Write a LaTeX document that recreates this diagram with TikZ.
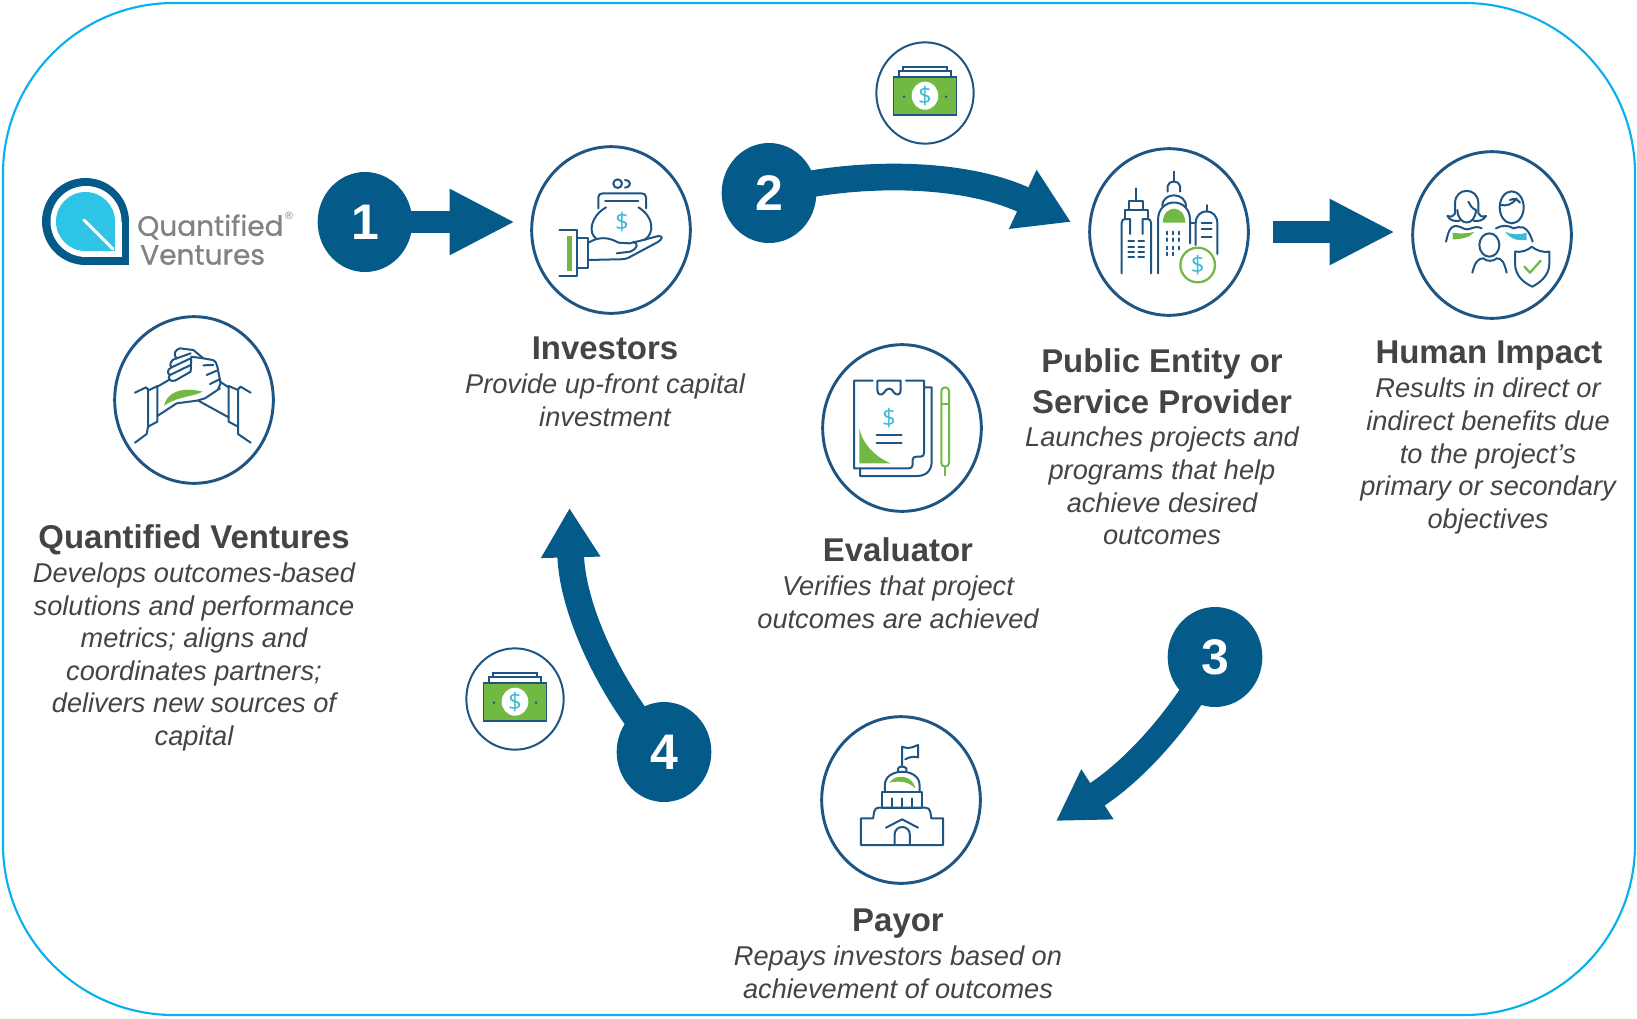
\documentclass[tikz,border=0pt]{standalone}
\usepackage{fontspec}
\setmainfont{Liberation Sans}
\newfontfamily\logofont{Poppins}[FakeBold=0.8]
\newfontfamily\dollarfont{Open Sans}
\usetikzlibrary{shapes.geometric,arrows.meta,backgrounds}
\definecolor{flowblue}{HTML}{045A89}
\definecolor{iconblue}{HTML}{1F5582}
\definecolor{leaf}{HTML}{72B944}
\definecolor{aqua}{HTML}{3DBBD6}
\definecolor{frameblue}{HTML}{0AB0EE}
\definecolor{logoaqua}{HTML}{2EC4E6}
\definecolor{logogrey}{HTML}{808285}
\definecolor{txt}{HTML}{444444}
\tikzset{
  iconcircle/.style={ellipse,draw=iconblue,line width=2.2pt,fill=white,minimum width=119pt,minimum height=125pt,inner sep=0pt},
  cashcircle/.style={ellipse,draw=iconblue,line width=1.5pt,fill=white,minimum width=73pt,minimum height=76pt,inner sep=0pt},
  numcircle/.style={ellipse,fill=flowblue,minimum width=71pt,minimum height=75pt,inner sep=0pt,text=white,font=\bfseries\fontsize{37.5}{40}\selectfont},
  heading/.style={text=txt,align=center,inner sep=0pt,font=\bfseries\fontsize{24.7}{30.5}\selectfont},
  bodytext/.style={text=txt,align=center,inner sep=0pt,font=\itshape\fontsize{20.4}{24.45}\selectfont},
  flowstraight/.style={draw=flowblue,line width=17.2pt,-{Triangle[length=49pt,width=46pt]}},
  flowcurve/.style={draw=flowblue,line width=20pt,-{Triangle[length=37pt,width=42pt]}},
  flowcurvewide/.style={draw=flowblue,line width=20pt,-{Triangle[length=40pt,width=46pt]}},
  ic/.style={draw=iconblue,line width=1.5pt,line join=round,line cap=round},
  dollar/.style={text=aqua,inner sep=0pt,font=\dollarfont\fontsize{18}{18}\selectfont},
  moneyicon/.pic={
    \draw[iconblue,line width=1.2pt,fill=white] (-22,-26) rectangle (22,-22);
    \draw[iconblue,line width=1.2pt,fill=white] (-26,-22) rectangle (26,-16);
    \draw[iconblue,line width=1.2pt,fill=leaf] (-31.5,-16) rectangle (31.5,22);
    \fill[white] (0,2.7) ellipse[x radius=13.3,y radius=14];
    \fill[iconblue] (-21,3.7) circle[radius=1.3] (21,3.7) circle[radius=1.3];
    \node[dollar] (d) at (0,2.7) {\$};
  }
}
\begin{document}
\begin{tikzpicture}[x=.75pt,y=-.75pt]
\useasboundingbox (0,0) rectangle (1637,1018);
\draw[frameblue,line width=1.6pt,rounded corners=128pt] (3,3) rectangle (1635,1015);

% ---- circles
\node[iconcircle] (qv) at (194,400) {};
\node[iconcircle] (inv) at (611,230) {};
\node[iconcircle] (pub) at (1169,232) {};
\node[iconcircle] (hum) at (1492,235) {};
\node[iconcircle] (eval) at (902,428) {};
\node[iconcircle] (pay) at (901,800) {};
\node[cashcircle] (cashA) at (925,93) {};
\node[cashcircle] (cashB) at (515,699) {};
\pic[name prefix=a] at (925,93) {moneyicon};
\pic[name prefix=b] at (515,699) {moneyicon};

% ---- numbered circles
\node[numcircle] (n1) at (365,222) {1};
\node[numcircle] (n2) at (769,193) {2};
\node[numcircle] (n3) at (1215,657) {3};
\node[numcircle] (n4) at (664,752) {4};

% ---- connectors
\coordinate (tip1) at (515,222);
\coordinate (tip2) at (1071,222);
\coordinate (tip3) at (1056,821);
\coordinate (tip4) at (569.5,508);
\coordinate (startH) at (1273,232);
\coordinate (tipH) at (1395,232);
\begin{scope}[on background layer]
\draw[flowstraight] (n1.center) -- (tip1);
\draw[flowstraight] (startH) -- (tipH);
\draw[flowcurvewide] (n2.center) .. controls (850,171) and (960,170) .. (tip2);
\draw[flowcurve] (n3.center) .. controls (1180,722) and (1132,772) .. (tip3);
\draw[flowcurve] (n4.center) .. controls (612,695) and (572,610) .. (tip4);
\end{scope}

% ---- logo
\fill[flowblue] (85.5,221.5) circle[radius=43.5];
\fill[flowblue] (85.5,221.5) rectangle (129,264.5);
\fill[white] (86,221.5) circle[radius=35.5];
\fill[white] (86,221.5) rectangle (121.5,257);
\fill[logoaqua] (85.5,221.5) circle[radius=29.5];
\fill[logoaqua] (85.5,221.5) rectangle (115,251);
\draw[white,line width=2.2pt,line cap=round] (84,220) -- (113,249);
\node[anchor=west,text=logogrey,inner sep=0pt,font=\logofont\fontsize{21}{21}\selectfont] (logoA) at (137,227) {Quantified};
\node[anchor=west,text=logogrey,inner sep=0pt,font=\logofont\fontsize{21}{21}\selectfont] (logoB) at (140,255) {Ventures};
\node[text=logogrey,inner sep=0pt,font=\fontsize{8}{8}\selectfont] (logoR) at (289,216) {®};

% ---- handshake icon
\begin{scope}[shift={(0,140)},x=.25pt,y=-.25pt]
\fill[leaf] (492,797) .. controls (500,760) and (540,738) .. (608,755) .. controls (580,770) and (530,770) .. (492,797) -- cycle;
\draw[ic] (405,758) -- (438,742) -- (444,748) -- (444,860) -- (440,882) -- (405,908);
\draw[ic] (444,752) -- (472,738) -- (472,845) -- (444,860);
\draw[ic] (472,740) -- (510,718);
\draw[ic] (472,828) -- (530,790) -- (590,782) -- (615,775) -- (660,745);
\draw[ic] (752,758) -- (722,740) -- (714,748) -- (714,882) -- (752,908);
\draw[ic] (714,750) -- (686,738) -- (686,845) -- (714,860);
\draw[ic] (686,832) -- (595,782);
\draw[ic] (686,742) -- (660,725);
% fist
\draw[ic] (530,655) .. controls (518,645) and (525,628) .. (540,625) -- (580,630) -- (610,655) -- (638,660) .. controls (648,664) and (650,672) .. (652,680) -- (662,730) -- (655,745);
\draw[ic] (530,655) -- (572,640);
\draw[ic] (530,655) .. controls (508,660) and (508,678) .. (515,682) -- (572,655);
\draw[ic] (515,682) .. controls (500,688) and (502,702) .. (510,705) -- (572,675);
\draw[ic] (510,705) .. controls (500,715) and (510,726) .. (525,722) -- (572,695) -- (574,650) -- (610,655);
\draw[ic] (610,676) -- (640,675);
\draw[ic] (620,705) -- (650,692);
\draw[ic] (630,732) -- (660,717);
\end{scope}

% ---- investors icon
\begin{scope}[shift={(510,20)},x=.25pt,y=-.25pt]
\fill[leaf] (172,647) rectangle (186,752);
\draw[ic] (148,630) -- (202,630) -- (202,768) -- (148,768);
\draw[ic] (202,655) -- (235,655) -- (235,745) -- (202,745);
\draw[ic] (235,668) .. controls (265,650) and (295,650) .. (325,668) -- (360,670) -- (380,665) -- (445,648) .. controls (458,648) and (462,655) .. (440,668) -- (365,708) .. controls (350,718) and (340,718) .. (320,718) -- (235,720);
\draw[ic] (320,700) -- (360,695) .. controls (385,685) and (385,670) .. (370,665);
\draw[ic] (265,565) -- (265,532) .. controls (265,524) and (270,520) .. (278,520) -- (395,520) .. controls (403,520) and (408,524) .. (408,532) -- (408,565);
\draw[ic] (285,543) -- (385,543);
\draw[ic] (288,562) .. controls (240,590) and (235,640) .. (258,655);
\draw[ic] (385,562) .. controls (432,590) and (435,640) .. (403,660);
\draw[ic] (323,491) circle[radius=13];
\draw[ic] (345,480) .. controls (365,482) and (365,500) .. (345,503);
\node[dollar] (dInv) at (336,607) {\$};
\end{scope}

% ---- public entity icon
\begin{scope}[shift={(1080,130)},x=.25pt,y=-.25pt]
\draw[ic] (125,430) -- (125,278) .. controls (125,270) and (130,267) .. (136,267) -- (150,267) -- (150,312);
\draw[ic] (213,430) -- (213,278) .. controls (213,270) and (208,267) .. (202,267) -- (188,267) -- (188,312);
\draw[ic] (135,265) -- (135,240) -- (203,240) -- (203,265);
\draw[ic] (147,240) -- (147,212) -- (190,212) -- (190,240);
\draw[ic] (168,212) -- (168,175);
\foreach \yy in {332,350,365,380}{
  \draw[ic] (145,\yy) -- (162,\yy);
  \draw[ic] (175,\yy) -- (192,\yy);
}
\draw[ic] (234,430) -- (234,270) .. controls (234,200) and (330,200) .. (330,270) -- (330,340);
\fill[leaf] (248,278) .. controls (250,222) and (314,222) .. (316,278) -- cycle;
\draw[ic] (247,228) .. controls (247,185) and (318,185) .. (318,230);
\draw[ic] (263,185) -- (263,168) .. controls (265,150) and (298,150) .. (300,168) -- (300,185);
\draw[ic] (282,155) -- (282,125);
\foreach \xx in {262,280,298}{
  \foreach \yy in {305,325,350}{
    \draw[ic] (\xx,\yy) -- (\xx,\yy+8);
  }
}
\draw[ic] (262,368) -- (262,376);
\draw[ic] (280,368) -- (280,376);
\draw[ic] (347,345) -- (347,280) .. controls (347,232) and (412,232) .. (412,280) -- (412,372);
\draw[ic] (380,245) -- (380,225);
\draw[ic] (365,280) -- (395,280) (365,298) -- (395,298) (365,320) -- (395,320);
\draw[ic] (330,280) -- (347,280);
\draw[leaf,line width=1.7pt,fill=white] (353,405) circle[radius=52];
\node[dollar] (dPub) at (353,405) {\$};
\end{scope}

% ---- human impact icon
\begin{scope}[shift={(1080,130)},x=.25pt,y=-.25pt]
\draw[ic] (1125,250) -- (1125,220) .. controls (1125,170) and (1195,170) .. (1195,220) -- (1195,250) .. controls (1198,258) and (1205,262) .. (1218,258) .. controls (1210,272) and (1195,275) .. (1180,272);
\draw[ic] (1125,250) .. controls (1122,258) and (1115,262) .. (1102,258) .. controls (1110,272) and (1125,275) .. (1140,272);
\draw[ic] (1132,240) .. controls (1135,290) and (1185,290) .. (1188,240) .. controls (1175,235) and (1170,225) .. (1165,215);
\draw[ic] (1098,335) .. controls (1105,305) and (1110,290) .. (1125,288) .. controls (1140,287) and (1150,298) .. (1160,298) .. controls (1175,298) and (1185,285) .. (1205,295);
\fill[leaf] (1118,308) .. controls (1140,312) and (1165,310) .. (1183,306) .. controls (1170,322) and (1145,328) .. (1118,328) -- cycle;
\draw[ic] (1295,232) ellipse[x radius=36,y radius=48];
\draw[ic] (1262,225) .. controls (1280,228) and (1295,225) .. (1310,205) (1290,210) .. controls (1300,205) and (1310,205) .. (1320,218);
\draw[ic] (1248,295) .. controls (1265,285) and (1285,285) .. (1300,295) .. controls (1320,290) and (1340,280) .. (1358,335);
\fill[aqua] (1275,305) .. controls (1295,315) and (1320,315) .. (1340,308) -- (1340,330) .. controls (1320,332) and (1295,332) .. cycle;
\draw[ic] (1228,345) ellipse[x radius=30,y radius=35];
\draw[ic] (1177,428) .. controls (1185,395) and (1195,385) .. (1210,385) .. controls (1220,395) and (1240,395) .. (1250,385) .. controls (1265,385) and (1272,395) .. (1280,428);
\draw[ic,fill=white] (1305,365) .. controls (1325,368) and (1345,360) .. (1355,350) .. controls (1370,362) and (1390,368) .. (1408,365) -- (1408,400) .. controls (1408,440) and (1375,460) .. (1357,470) .. controls (1335,460) and (1305,440) .. (1305,400) -- cycle;
\draw[leaf,line width=1.7pt,line cap=round,line join=round] (1333,410) -- (1350,428) -- (1382,392);
\end{scope}

% ---- evaluator icon
\begin{scope}[shift={(800,330)},x=.25pt,y=-.25pt]
\fill[leaf] (178,295) .. controls (190,350) and (235,385) .. (272,400) -- (178,400) -- cycle;
\draw[ic] (218,152) -- (162,152) -- (162,415) -- (325,415) .. controls (335,415) and (338,410) .. (338,400) -- (338,390) .. controls (338,382) and (342,380) .. (350,380) -- (362,380) .. controls (370,380) and (372,375) .. (372,368) -- (372,152) -- (318,152);
\draw[ic] (232,152) -- (302,152) -- (302,180) .. controls (302,195) and (290,198) .. (282,188) .. controls (275,172) and (260,172) .. (252,188) .. controls (245,198) and (232,195) .. (232,180) -- cycle;
\draw[ic] (372,172) -- (395,172) -- (395,395) .. controls (395,425) and (375,438) .. (350,438) -- (180,438) -- (180,415);
\node[dollar] (dEval) at (267,265) {\$};
\draw[ic] (230,315) -- (305,315) (230,340) -- (305,340);
\draw[leaf,line width=1.5pt,rounded corners=2.8pt] (424,172) rectangle (447,410);
\draw[leaf,line width=1.5pt] (424,222) -- (447,222) (436,410) -- (436,438);
\end{scope}

% ---- payor icon
\begin{scope}[shift={(440,630)},x=.268pt,y=-.25pt]
\draw[ic] (1293,410) -- (1293,350) .. controls (1310,358) and (1322,352) .. (1338,345) -- (1338,382) .. controls (1322,378) and (1312,382) .. (1302,388);
\draw[ic] (1282,425) -- (1282,415) .. controls (1285,408) and (1300,408) .. (1305,415) -- (1305,425);
\draw[ic] (1245,485) -- (1245,465) .. controls (1245,412) and (1342,412) .. (1342,465) -- (1342,485);
\fill[leaf] (1258,458) .. controls (1272,432) and (1322,432) .. (1330,475) .. controls (1315,458) and (1290,450) .. (1258,458) -- cycle;
\draw[ic] (1237,485) rectangle (1350,533);
\draw[ic] (1265,505) -- (1265,533) (1293,505) -- (1293,533) (1321,505) -- (1321,533);
\draw[ic] (1178,645) -- (1178,565) -- (1212,565) -- (1215,545) .. controls (1217,537) and (1220,533) .. (1228,533) -- (1358,533) .. controls (1366,533) and (1370,537) .. (1372,545) -- (1375,565) -- (1408,565) -- (1408,645) -- cycle;
\draw[ic] (1248,593) -- (1293,568) -- (1338,593);
\draw[ic] (1272,645) -- (1272,615) .. controls (1272,583) and (1315,583) .. (1315,615) -- (1315,645);
\end{scope}

% ---- texts
\node[heading] (tQ) at (194,540) {Quantified Ventures};
\node[bodytext] (bQ) at (194,657) {Develops outcomes-based\\solutions and performance\\metrics; aligns and\\coordinates partners;\\delivers new sources of\\capital};
\node[heading] (tI) at (605,348) {Investors};
\node[bodytext] (bI) at (605,400) {Provide up-front capital\\investment};
\node[heading] (tP) at (1162,381) {\fontsize{24.7}{40.4}\selectfont Public Entity or\\Service Provider};
\node[bodytext] (bP) at (1162,486) {Launches projects and\\programs that help\\achieve desired\\outcomes};
\node[heading] (tH) at (1489,356) {Human Impact};
\node[bodytext] (bH) at (1488,456) {Results in direct or\\indirect benefits due\\to the project’s\\primary or secondary\\objectives};
\node[heading] (tE) at (898,550) {Evaluator};
\node[bodytext] (bE) at (898,602) {Verifies that project\\outcomes are achieved};
\node[heading] (tY) at (898,924) {Payor};
\node[bodytext] (bY) at (898,972) {Repays investors based on\\achievement of outcomes};
\end{tikzpicture}
\end{document}
